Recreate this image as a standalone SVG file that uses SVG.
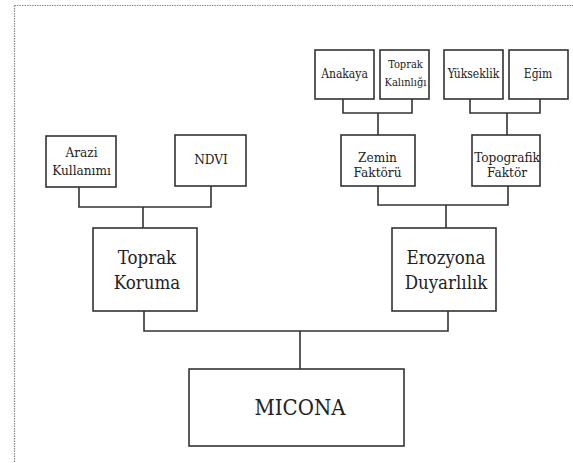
<svg xmlns="http://www.w3.org/2000/svg" width="573" height="463" viewBox="0 0 573 463">
<style>
.box{fill:#fff;stroke:#333;stroke-width:1.6}
.ln{fill:none;stroke:#333;stroke-width:1.6}
text{font-family:'DejaVu Serif Condensed','DejaVu Serif','Liberation Serif',serif;font-stretch:condensed;fill:#222;text-anchor:middle}
.s{font-size:12px}
.t{font-size:11px}
.m{font-size:13.5px}
.l{font-size:18.5px}
.xl{font-size:22px}
</style>
<rect width="573" height="463" fill="#fff"/>
<path d="M14.5 5.5H573M14.5 5.5V463" fill="none" stroke="#888" stroke-width="1.2" stroke-dasharray="1.5 1"/>
<g id="connectors">
<path class="ln" d="M343 99V113H412V99M378 113V135"/>
<path class="ln" d="M470 99V113H540V99M507 113V135"/>
<path class="ln" d="M79 187V207H211V186M143 207V228"/>
<path class="ln" d="M378 186V205H508V186M446 205V228"/>
<path class="ln" d="M144 311V331H448V311M300 331V369"/>
</g>
<g id="anakaya"><rect class="box" x="315" y="50" width="59" height="49"/><text class="s" x="344.5" y="78">Anakaya</text></g>
<g id="toprak-kalinligi"><rect class="box" x="380" y="50" width="49" height="49"/><text class="t" x="405.5" y="68">Toprak</text><text class="t" x="405.5" y="86">Kalınlığı</text></g>
<g id="yukseklik"><rect class="box" x="444" y="50" width="59" height="49"/><text class="s" x="473.5" y="78">Yükseklik</text></g>
<g id="egim"><rect class="box" x="509" y="50" width="59" height="49"/><text class="s" x="538" y="78">Eğim</text></g>
<g id="zemin-faktoru"><rect class="box" x="341" y="135" width="74" height="51"/><text class="m" x="377.5" y="162">Zemin</text><text class="m" x="377.5" y="177">Faktörü</text></g>
<g id="topografik-faktor"><rect class="box" x="472" y="135" width="68" height="51"/><text class="m" x="507" y="162">Topografik</text><text class="m" x="507" y="177">Faktör</text></g>
<g id="arazi-kullanimi"><rect class="box" x="46" y="136" width="70" height="51"/><text class="m" x="81.5" y="157">Arazi</text><text class="m" x="81.5" y="175">Kullanımı</text></g>
<g id="ndvi"><rect class="box" x="175" y="135" width="71" height="51"/><text class="m" x="211" y="164">NDVI</text></g>
<g id="toprak-koruma"><rect class="box" x="93" y="228" width="104" height="83"/><text class="l" x="147" y="264">Toprak</text><text class="l" x="147" y="289">Koruma</text></g>
<g id="erozyona-duyarlilik"><rect class="box" x="392" y="228" width="104" height="83"/><text class="l" x="446" y="264">Erozyona</text><text class="l" x="446" y="289">Duyarlılık</text></g>
<g id="micona"><rect class="box" x="189" y="369" width="215" height="77"/><text class="xl" x="300" y="415">MICONA</text></g>
</svg>
